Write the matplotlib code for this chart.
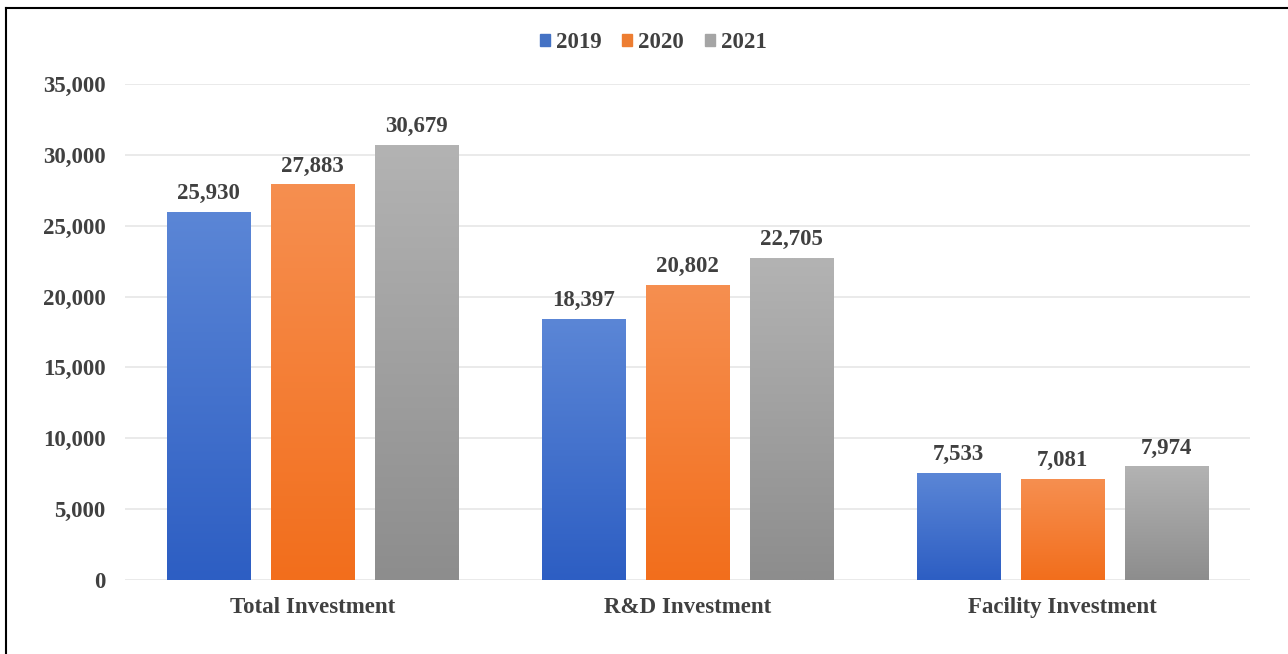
import matplotlib
matplotlib.use("Agg")
import matplotlib.pyplot as plt
import numpy as np
from matplotlib.colors import LinearSegmentedColormap
from matplotlib.patches import Rectangle
from matplotlib.lines import Line2D

categories = ["Total Investment", "R&D Investment", "Facility Investment"]
years = ["2019", "2020", "2021"]
v2019 = [25930, 18397, 7533]
v2020 = [27883, 20802, 7081]
v2021 = [30679, 22705, 7974]
series = [v2019, v2020, v2021]

top_cols = ["#5b86d6", "#f68f50", "#b3b3b3"]
bot_cols = ["#2d5ec3", "#f26e1c", "#8d8d8d"]
legend_cols = ["#4472c4", "#ed7d31", "#a5a5a5"]
txt = "#404040"
font = "Liberation Serif"
fs = 16.5

fig = plt.figure(figsize=(12.88, 6.54), dpi=100)
ax = fig.add_axes([0.097, 0.1131, 0.8735, 0.7585])
ax.set_xlim(-0.5, 2.5)
ax.set_ylim(0, 35000)

bw = 0.222
step = 0.278
x = np.arange(len(categories))
for i, vals in enumerate(series):
    cmap = LinearSegmentedColormap.from_list("g%d" % i, [bot_cols[i], top_cols[i]])
    grad = np.linspace(0, 1, 256).reshape(-1, 1)
    bars = ax.bar(x + (i - 1) * step, vals, bw, color="none", zorder=3)
    for b in bars:
        x0, w, h = b.get_x(), b.get_width(), b.get_height()
        ax.imshow(grad, extent=[x0, x0 + w, 0, h], origin="lower", aspect="auto",
                  cmap=cmap, zorder=3, interpolation="bilinear")
        ax.annotate(f"{int(h):,}", (x0 + w / 2, h), xytext=(0, 6), textcoords="offset points",
                    ha="center", va="bottom", fontsize=fs, fontweight="bold",
                    family=font, color=txt)

ax.set_xlim(-0.5, 2.5)
ax.set_ylim(0, 35000)
ax.set_yticks(np.arange(0, 35001, 5000))
ax.set_yticklabels([f"{t:,}" for t in range(0, 35001, 5000)])
ax.set_xticks(x)
ax.set_xticklabels(categories)
for lab in ax.get_yticklabels() + ax.get_xticklabels():
    lab.set_family(font)
    lab.set_fontweight("bold")
    lab.set_fontsize(fs)
    lab.set_color(txt)
ax.tick_params(axis="y", length=0, pad=14)
ax.tick_params(axis="x", length=0, pad=12)
ax.grid(axis="y", color="#e6e6e6", linewidth=1.2, zorder=0)
ax.set_axisbelow(True)
for s in ax.spines.values():
    s.set_visible(False)

handles = [Rectangle((0, 0), 1, 1, color=c) for c in legend_cols]
leg = fig.legend(handles, years, loc="center", bbox_to_anchor=(0.507, 0.935), ncol=3,
                 frameon=False, handlelength=0.45, handleheight=0.45, handletextpad=0.25,
                 columnspacing=0.9, prop={"family": font, "weight": "bold", "size": fs})
for t in leg.get_texts():
    t.set_color(txt)

# frame lines (left and top)
fig.add_artist(Line2D([6 / 1288, 6 / 1288], [0, 1 - 8 / 654], transform=fig.transFigure, color="black", lw=1.5))
fig.add_artist(Line2D([6 / 1288, 1], [1 - 8 / 654, 1 - 8 / 654], transform=fig.transFigure, color="black", lw=1.5))

fig.savefig("out.png", dpi=100)
